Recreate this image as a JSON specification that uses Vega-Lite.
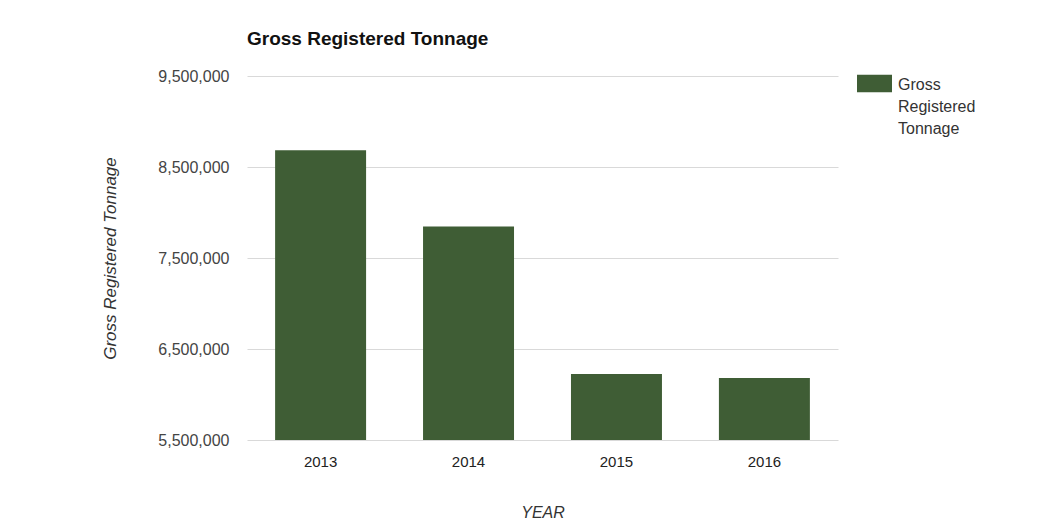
{
  "$schema": "https://vega.github.io/schema/vega-lite/v6.json",
  "width": 591,
  "height": 364,
  "autosize": {"type": "none"},
  "padding": {"left": 247, "top": 76, "right": 223, "bottom": 88},
  "background": "#ffffff",
  "config": {
    "font": "Liberation Sans",
    "view": {"stroke": null},
    "axis": {"labelFont": "Liberation Sans", "titleFont": "Liberation Sans"}
  },
  "title": {
    "text": "Gross Registered Tonnage",
    "anchor": "start",
    "frame": "group",
    "font": "Liberation Sans",
    "fontSize": 19,
    "fontWeight": "bold",
    "color": "#111111",
    "baseline": "alphabetic",
    "offset": 2
  },
  "data": {
    "values": [
      {"YEAR": "2013", "Gross Registered Tonnage": 8685000},
      {"YEAR": "2014", "Gross Registered Tonnage": 7845000},
      {"YEAR": "2015", "Gross Registered Tonnage": 6225000},
      {"YEAR": "2016", "Gross Registered Tonnage": 6180000}
    ]
  },
  "mark": {"type": "bar", "clip": true},
  "encoding": {
    "x": {
      "field": "YEAR",
      "type": "nominal",
      "scale": {"paddingInner": 0.385, "paddingOuter": 0.19},
      "axis": {
        "title": "YEAR",
        "titleFontStyle": "italic",
        "titleFontWeight": "normal",
        "titleFontSize": 16,
        "titleColor": "#333333",
        "titlePadding": 35,
        "labelAngle": 0,
        "labelFontSize": 15,
        "labelColor": "#222222",
        "labelPadding": 14,
        "ticks": false,
        "domain": false
      }
    },
    "y": {
      "field": "Gross Registered Tonnage",
      "type": "quantitative",
      "scale": {"domain": [5500000, 9500000], "zero": false, "nice": false},
      "axis": {
        "values": [5500000, 6500000, 7500000, 8500000, 9500000],
        "format": ",.0f",
        "title": "Gross Registered Tonnage",
        "titleFontStyle": "italic",
        "titleFontWeight": "normal",
        "titleFontSize": 17,
        "titleColor": "#333333",
        "titlePadding": 38,
        "labelFontSize": 16,
        "labelColor": "#444444",
        "labelPadding": 18,
        "ticks": false,
        "domain": false,
        "grid": true,
        "gridColor": "#d9d9d9",
        "gridWidth": 1
      }
    },
    "color": {
      "datum": "Gross Registered Tonnage",
      "type": "nominal",
      "scale": {"range": ["#3f5d35"]},
      "legend": {
        "title": null,
        "orient": "none",
        "legendX": 610,
        "legendY": -10,
        "padding": 0,
        "symbolType": "M-1,-0.5H1V0.5H-1Z",
        "symbolSize": 1225,
        "symbolStrokeWidth": 0,
        "symbolOpacity": 1,
        "labelFontSize": 16,
        "labelColor": "#333333",
        "labelOffset": 6,
        "labelExpr": "split(datum.label, ' ')",
        "encode": {
          "labels": {"update": {"lineHeight": {"value": 22}, "baseline": {"value": "top"}, "dy": {"value": -7}}}
        }
      }
    }
  }
}
